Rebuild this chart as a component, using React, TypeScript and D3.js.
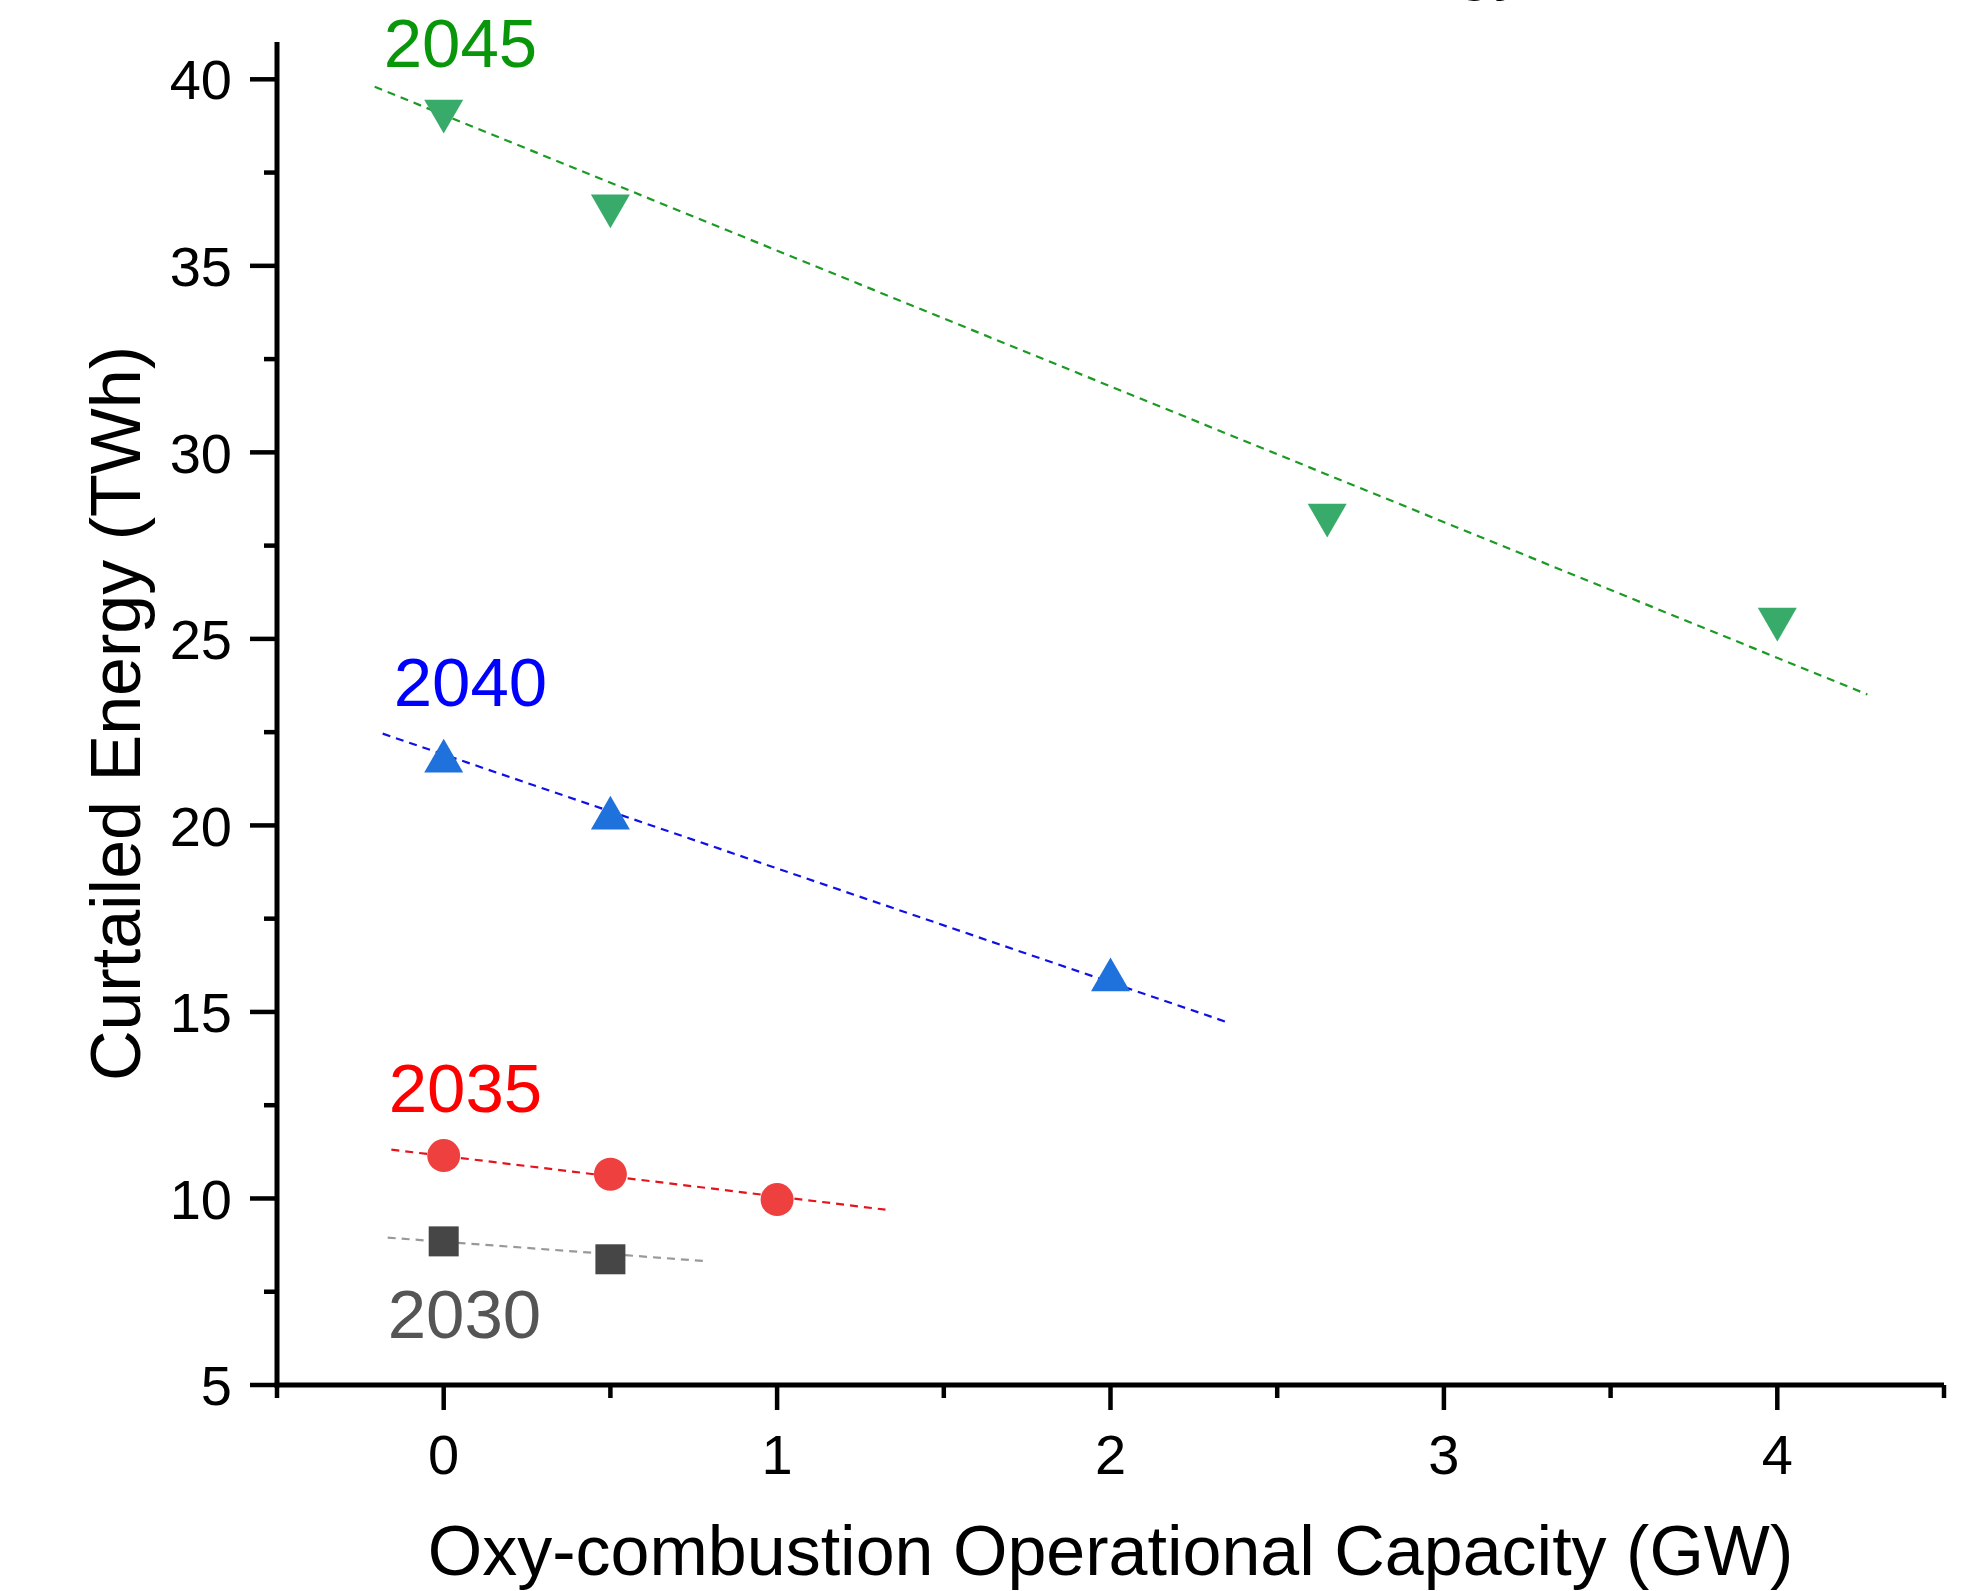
import React from 'react'
import * as d3 from 'd3'

// values
const xTicks = [0, 1, 2, 3, 4]
const xMinor = [-0.5, 0.5, 1.5, 2.5, 3.5, 4.5]
const yTicks = [5, 10, 15, 20, 25, 30, 35, 40]
const yMinor = [7.5, 12.5, 17.5, 22.5, 27.5, 32.5, 37.5]

const x2030 = [0, 0.5]
const y2030 = [8.85, 8.37]
const x2035 = [0, 0.5, 1]
const y2035 = [11.15, 10.65, 9.97]
const x2040 = [0, 0.5, 2]
const y2040 = [21.87, 20.34, 16.01]
const x2045 = [0, 0.5, 2.65, 4]
const y2045 = [39.0, 36.46, 28.17, 25.38]

// linear fit lines (start / end)
const fitX2030 = [-0.168, 0.787]
const fitY2030 = [8.95, 8.32]
const fitX2035 = [-0.157, 1.325]
const fitY2035 = [11.31, 9.7]
const fitX2040 = [-0.183, 2.345]
const fitY2040 = [22.46, 14.74]
const fitX2045 = [-0.207, 4.27]
const fitY2045 = [39.8, 23.51]

const years = ['2030', '2035', '2040', '2045']
const labelX = [-0.168, -0.165, -0.15, -0.18]
const labelY = [6.27, 12.33, 23.19, 40.32]

const W = 1975
const H = 1591
const FONT = '"Liberation Sans", Arial, sans-serif'

const App = () => {
  const x = d3.scaleLinear().domain([-0.5, 4.5]).range([277, 1944])
  const y = d3.scaleLinear().domain([5, 41]).range([1385, 42])

  const line = d3.line<[number, number]>()
    .x(d => x(d[0]))
    .y(d => y(d[1]))

  const fit = (xs: number[], ys: number[]) => line(xs.map((v, i) => [v, ys[i]]))

  const triUp = (cx: number, cy: number, s: number) => {
    let h = s * 0.866
    return `M${cx},${cy - h / 2}L${cx + s / 2},${cy + h / 2}L${cx - s / 2},${cy + h / 2}Z`
  }
  const triDown = (cx: number, cy: number, s: number) => {
    let h = s * 0.866
    return `M${cx - s / 2},${cy - h / 2}L${cx + s / 2},${cy - h / 2}L${cx},${cy + h / 2}Z`
  }

  const labelColors = ['#555555', '#ff0000', '#0000ff', '#0a960a']

  return (
    <svg width={W} height={H} style={{ position: 'absolute', left: 0, top: 0, background: '#fff' }}
      fontFamily={FONT}>
      <rect width={W} height={H} fill='#fff' />

      {/* title sits above the picture, only the descenders show */}
      <text x={1529} y={-14} fontSize={70} textAnchor='end' fill='#000'>Curtailed Energy</text>

      {/* fit lines */}
      <path d={fit(fitX2045, fitY2045) || ''} fill='none' stroke='#1c9a24' strokeWidth={2.2} strokeDasharray='8,6' />
      <path d={fit(fitX2040, fitY2040) || ''} fill='none' stroke='#1010e6' strokeWidth={2.2} strokeDasharray='8,6' />
      <path d={fit(fitX2035, fitY2035) || ''} fill='none' stroke='#e4141c' strokeWidth={2.2} strokeDasharray='8,6' />
      <path d={fit(fitX2030, fitY2030) || ''} fill='none' stroke='#999999' strokeWidth={2.2} strokeDasharray='8,6' />

      {/* markers */}
      {x2045.map((v, i) =>
        <path key={'g' + i} d={triDown(x(v), y(y2045[i]), 39)} fill='#38ab6a' />)}
      {x2040.map((v, i) =>
        <path key={'b' + i} d={triUp(x(v), y(y2040[i]), 39)} fill='#1f71dc' />)}
      {x2035.map((v, i) =>
        <circle key={'r' + i} cx={x(v)} cy={y(y2035[i])} r={16.5} fill='#ef4040' />)}
      {x2030.map((v, i) =>
        <rect key={'k' + i} x={x(v) - 15} y={y(y2030[i]) - 15} width={30} height={30} fill='#464646' />)}

      {/* year labels */}
      {years.map((t, i) =>
        <text key={t} x={x(labelX[i])} y={y(labelY[i])} fontSize={69} fill={labelColors[i]}>{t}</text>)}

      {/* axes */}
      <line x1={x(-0.5)} x2={x(-0.5)} y1={y(41)} y2={y(5) + 2.5} stroke='#000' strokeWidth={5} />
      <line x1={x(-0.5) - 2.5} x2={x(4.5)} y1={y(5)} y2={y(5)} stroke='#000' strokeWidth={5} />

      {yTicks.map(t =>
        <g key={'yt' + t}>
          <line x1={x(-0.5) - 27} x2={x(-0.5)} y1={y(t)} y2={y(t)} stroke='#000' strokeWidth={4.5} />
          <text x={232} y={y(t)} dy='0.36em' fontSize={56} textAnchor='end'>{t}</text>
        </g>)}
      {yMinor.map(t =>
        <line key={'ym' + t} x1={x(-0.5) - 13} x2={x(-0.5)} y1={y(t)} y2={y(t)} stroke='#000' strokeWidth={4.5} />)}

      {xTicks.map(t =>
        <g key={'xt' + t}>
          <line x1={x(t)} x2={x(t)} y1={y(5)} y2={y(5) + 25} stroke='#000' strokeWidth={4.5} />
          <text x={x(t)} y={1474} fontSize={56} textAnchor='middle'>{t}</text>
        </g>)}
      {xMinor.map(t =>
        <line key={'xm' + t} x1={x(t)} x2={x(t)} y1={y(5)} y2={y(5) + 13} stroke='#000' strokeWidth={4.5} />)}

      {/* axis titles */}
      <text x={(x(-0.5) + x(4.5)) / 2} y={1575} fontSize={70} textAnchor='middle'>
        Oxy-combustion Operational Capacity (GW)
      </text>
      <text transform={`translate(140,${(y(41) + y(5)) / 2}) rotate(-90)`} fontSize={70} textAnchor='middle'>
        Curtailed Energy (TWh)
      </text>
    </svg>
  )
}

export default App
